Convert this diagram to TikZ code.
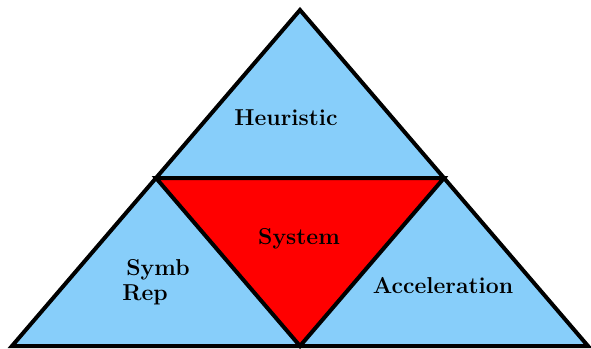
\documentclass[tikz,border=0pt]{standalone}
\usepackage{xcolor}
\definecolor{skyb}{RGB}{135,206,250}
\begin{document}
\begin{tikzpicture}[x=1pt,y=-1pt,
  tri/.style={draw=black,line width=4pt,line join=miter},
  lbl/.style={font=\fontsize{23}{25}\selectfont\bfseries,inner sep=0pt}]
\useasboundingbox (0,0) rectangle (591,348);
\coordinate (A) at (12,346);
\coordinate (B) at (588,346);
\coordinate (C) at (300,10);
\coordinate (AB) at (300,346);
\coordinate (BC) at (444,178);
\coordinate (CA) at (156,178);
\fill[skyb] (A) -- (B) -- (C) -- cycle;
\fill[red] (CA) -- (BC) -- (AB) -- cycle;
\draw[tri] (A) -- (B) -- (C) -- cycle;
\draw[tri] (CA) -- (BC) -- (AB) -- cycle;
\node[lbl] (h) at (286,118) {Heuristic};
\node[lbl] (s) at (299,239) {System};
\node[lbl,align=left] (r) at (156,282) {\hspace*{4pt}Symb\\Rep};
\node[lbl] (a) at (443,286) {Acceleration};
\end{tikzpicture}
\end{document}
